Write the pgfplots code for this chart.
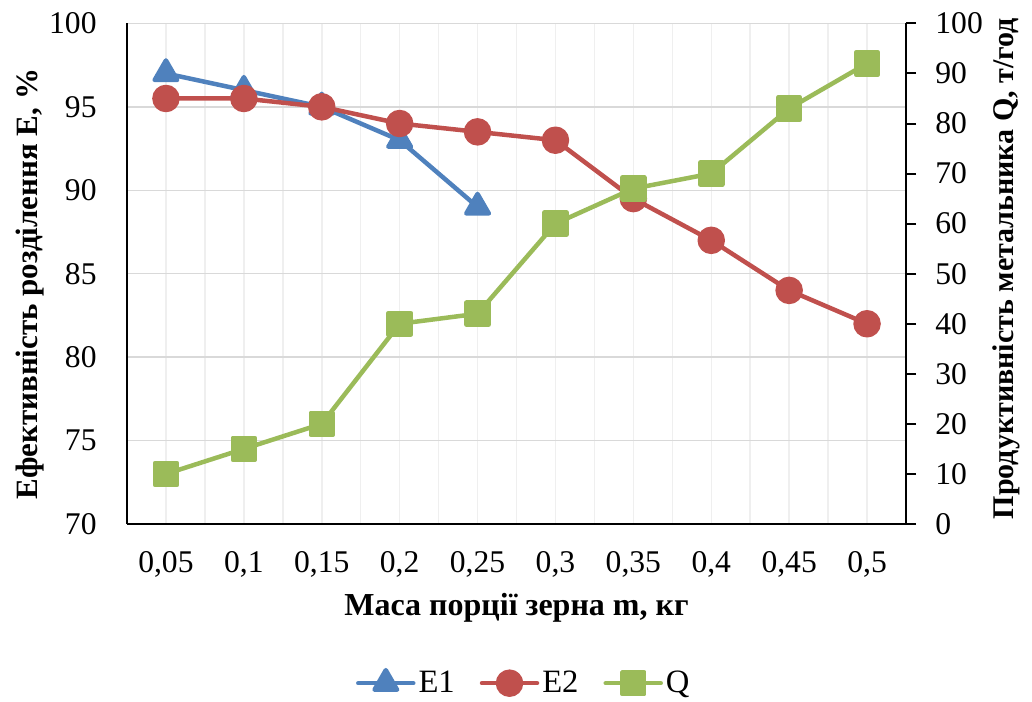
\documentclass[border=0pt]{standalone}
\usepackage{pgfplots}
\pgfplotsset{compat=1.18}
\usepackage{fontspec}
\setmainfont{Liberation Serif}

\definecolor{cEone}{HTML}{4F81BD}
\definecolor{cEtwo}{HTML}{C0504D}
\definecolor{cQ}{HTML}{9BBB59}
\definecolor{gridH}{HTML}{D9D9D9}
\definecolor{gridV}{HTML}{EFEFEF}

\newcommand{\tickfont}{\fontsize{15.8}{18}\selectfont}
\newcommand{\legfont}{\fontsize{16.3}{18}\selectfont}
\newcommand{\labfont}{\fontsize{16}{18}\selectfont\bfseries}
\newcommand{\ylabfont}{\fontsize{15.5}{18}\selectfont\bfseries}
\newcommand{\rlabfont}{\fontsize{15}{18}\selectfont\bfseries}

\begin{document}
\begin{tikzpicture}
\pgfplotsset{
  base/.style={
    scale only axis, width=389.5pt, height=250.3pt,
    xmin=-0.5, xmax=9.5,
    tick label style={font=\tickfont},
    /pgf/number format/assume math mode=true,
    xlabel style={font=\labfont},
  },
  ser/.style={line width=2.25pt, line join=round, line cap=round},
}
% efficiency, left axis
\begin{axis}[base,
  ymin=70, ymax=100, ytick={70,75,...,100},
  axis x line=bottom, axis y line=left,
  axis line style={-, black, line width=1pt},
  xtick={0,...,9},
  minor xtick={0.5,1.5,...,8.5},
  xticklabels={{0,05},{0,1},{0,15},{0,2},{0,25},{0,3},{0,35},{0,4},{0,45},{0,5}},
  major tick length=0pt, minor tick length=0pt,
  xticklabel style={anchor=north, inner sep=0pt, yshift=-13.5pt},
  yticklabel style={anchor=east, inner sep=0pt, xshift=-15pt},
  ymajorgrids, xmajorgrids, xminorgrids,
  y grid style={gridH, line width=0.75pt},
  x grid style={gridV, line width=0.75pt},
  minor x grid style={gridV, line width=0.75pt},
  xlabel={Маса порції зерна m, кг},
  xlabel style={at={(axis description cs:0.5,0)}, anchor=base, yshift=-45.5pt},
  ylabel={Ефективність розділення Е, \%},
  ylabel style={font=\ylabfont, at={(axis description cs:-0.1155,0.479)}, anchor=base, rotate=0},
]
\addplot[ser, cEone, mark=triangle*, mark size=6.5pt, mark options={solid}]
  coordinates {(0,97) (1,96) (2,95) (3,93) (4,89)};
\addplot[ser, cEtwo, mark=*, mark size=5.75pt, mark options={solid}]
  coordinates {(0,95.5) (1,95.5) (2,95) (3,94) (4,93.5) (5,93) (6,89.5) (7,87) (8,84) (9,82)};
\end{axis}
% throughput, right axis
\begin{axis}[base,
  ymin=0, ymax=100, ytick={0,10,...,100},
  axis x line=none, axis y line*=right,
  axis line style={-, black, line width=1pt},
  ytick style={black, line width=1pt},
  tick align=outside, major tick length=5pt,
  yticklabel style={anchor=west, inner sep=0pt, xshift=9.5pt},
  ylabel={Продуктивність метальника Q, т/год},
  ylabel style={font=\rlabfont, at={(axis description cs:1.1374,0.51)}, anchor=base, rotate=0},
  legend columns=3,
  legend style={at={(axis description cs:0.51,-0.318)}, anchor=center,
    draw=none, fill=none, font=\legfont,
    /tikz/every even column/.append style={column sep=11pt},
    nodes={inner sep=1.5pt}},
  legend image code/.code={
    \draw[mark repeat=2, mark phase=2]
      plot coordinates {(0pt,0pt) (13.75pt,0pt) (27.5pt,0pt)};},
]
\addlegendimage{ser, cEone, mark=triangle*, mark size=6.5pt, mark options={solid}}
\addlegendentry{E1}
\addlegendimage{ser, cEtwo, mark=*, mark size=5.75pt, mark options={solid}}
\addlegendentry{E2}
\addplot[ser, cQ, mark=square*, mark size=5.5pt, mark options={solid}]
  coordinates {(0,10) (1,15) (2,20) (3,40) (4,42) (5,60) (6,67) (7,70) (8,83) (9,92)};
\addlegendentry{Q}
\end{axis}
\pgfresetboundingbox
\useasboundingbox (-63.5pt,-88.5pt) rectangle (452.5pt,262pt);
\end{tikzpicture}
\end{document}
